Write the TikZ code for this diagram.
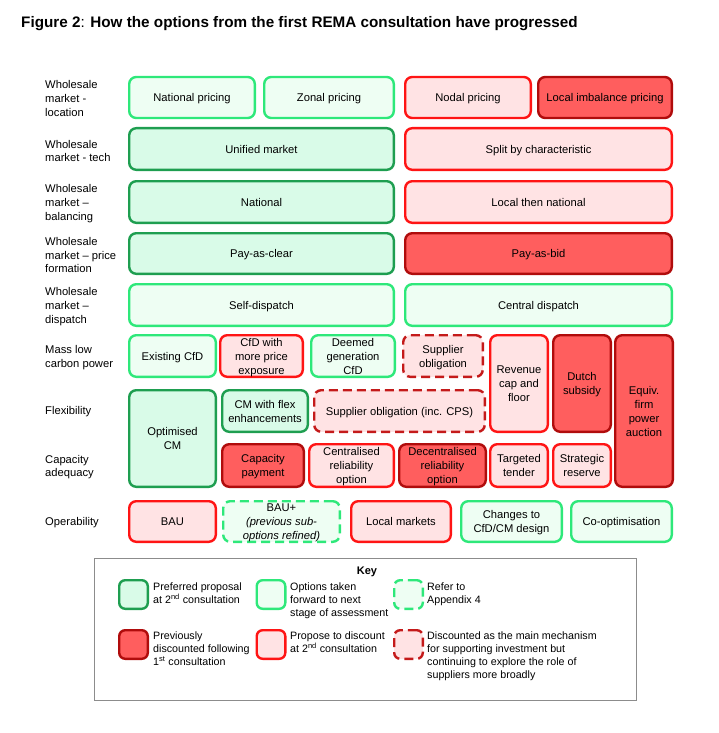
\documentclass[tikz,border=0pt]{standalone}
\usepackage{fontspec}
\setmainfont{Liberation Sans}
\definecolor{prefline}{HTML}{1E9E50}
\definecolor{preffill}{HTML}{D9FBE8}
\definecolor{fwdline}{HTML}{2EE87A}
\definecolor{fwdfill}{HTML}{EEFEF3}
\definecolor{discline}{HTML}{B00C0C}
\definecolor{discfill}{HTML}{FF5E5E}
\definecolor{propline}{HTML}{FF1414}
\definecolor{propfill}{HTML}{FFE3E4}
\definecolor{supline}{HTML}{C41A1A}
\definecolor{keyline}{HTML}{8C8C8C}
\begin{document}
\begin{tikzpicture}[x=1pt,y=-1pt,
  optbox/.style={rounded corners=7pt,line width=2.4pt,align=center,inner sep=1pt,text depth=0pt,
    font=\fontsize{11.2}{14}\selectfont},
  pref/.style={optbox,draw=prefline,fill=preffill},
  fwd/.style={optbox,draw=fwdline,fill=fwdfill},
  prevdisc/.style={optbox,draw=discline,fill=discfill},
  propdisc/.style={optbox,draw=propline,fill=propfill},
  appx/.style={fwd,dash pattern=on 9pt off 5pt},
  suppl/.style={optbox,draw=supline,fill=propfill,dash pattern=on 9pt off 5pt},
  rowlab/.style={anchor=west,align=left,inner sep=0pt,font=\fontsize{11.2}{13.8}\selectfont},
  swatch/.style={minimum width=28.6pt,minimum height=28.6pt,inner sep=0pt,rounded corners=6pt},
  keytext/.style={anchor=north west,align=left,inner sep=0pt,font=\fontsize{10.7}{13}\selectfont}]
  \useasboundingbox (0,0) rectangle (719,733);
  \node[anchor=base west,inner sep=0pt,font=\fontsize{15.25}{18}\selectfont\bfseries] (title) at (21,28)
    {Figure 2{\mdseries:} How the options from the first REMA consultation have progressed};

  % row labels
  \node[rowlab] (l1) at (45,98.5) {Wholesale\\market -\\location};
  \node[rowlab] (l2) at (45,151) {Wholesale\\market - tech};
  \node[rowlab] (l3) at (45,203.5) {Wholesale\\market --\\balancing};
  \node[rowlab] (l4) at (45,255) {Wholesale\\market -- price\\formation};
  \node[rowlab] (l5) at (45,306.5) {Wholesale\\market --\\dispatch};
  \node[rowlab] (l6) at (45,358) {Mass low\\carbon power};
  \node[rowlab] (l7) at (45,412) {Flexibility};
  \node[rowlab] (l8) at (45,467) {Capacity\\adequacy};
  \node[rowlab] (l9) at (45,522.5) {Operability};

  % wholesale market rows
  \node[fwd,minimum width=125.6pt,minimum height=41pt] (natpr) at (192,97.5) {National pricing};
  \node[fwd,minimum width=129.6pt,minimum height=41pt] (zonpr) at (329,97.5) {Zonal pricing};
  \node[propdisc,minimum width=125.6pt,minimum height=41pt] (nodpr) at (468,97.5) {Nodal pricing};
  \node[prevdisc,minimum width=133.6pt,minimum height=41pt] (locimb) at (605,97.5) {Local imbalance pricing};
  \node[pref,minimum width=264.6pt,minimum height=41.6pt] (unified) at (261.5,149) {Unified market};
  \node[propdisc,minimum width=266.6pt,minimum height=41.6pt] (split) at (538.5,149) {Split by characteristic};
  \node[pref,minimum width=264.6pt,minimum height=41.6pt] (natbal) at (261.5,202) {National};
  \node[propdisc,minimum width=266.6pt,minimum height=41.6pt] (locnat) at (538.5,202) {Local then national};
  \node[pref,minimum width=264.6pt,minimum height=40.6pt] (payclear) at (261.5,253.5) {Pay-as-clear};
  \node[prevdisc,minimum width=266.6pt,minimum height=40.6pt] (paybid) at (538.5,253.5) {Pay-as-bid};
  \node[fwd,minimum width=264.6pt,minimum height=41.6pt] (selfdisp) at (261.5,305) {Self-dispatch};
  \node[fwd,minimum width=266.6pt,minimum height=41.6pt] (centdisp) at (538.5,305) {Central dispatch};

  % low carbon, flexibility, capacity
  \node[fwd,minimum width=86.6pt,minimum height=41.6pt] (existcfd) at (172.5,356) {Existing CfD};
  \node[propdisc,minimum width=82.6pt,minimum height=41.6pt] (cfdprice) at (261.5,356) {CfD with\\more price\\exposure};
  \node[fwd,minimum width=83.6pt,minimum height=41.6pt] (deemed) at (353,356) {Deemed\\generation\\CfD};
  \node[suppl,minimum width=79.6pt,minimum height=41.6pt] (supobl) at (443,356) {Supplier\\obligation};
  \node[propdisc,minimum width=57.6pt,minimum height=96.6pt] (revcap) at (519,383.5) {Revenue\\cap and\\floor};
  \node[prevdisc,minimum width=57.6pt,minimum height=96.6pt] (dutch) at (582,383.5) {Dutch\\subsidy};
  \node[prevdisc,minimum width=57.6pt,minimum height=151.6pt] (equiv) at (644,411) {Equiv.\\firm\\power\\auction};
  \node[pref,minimum width=86.6pt,minimum height=96.6pt] (optcm) at (172.5,438.5) {Optimised\\CM};
  \node[pref,minimum width=85.6pt,minimum height=41.6pt] (cmflex) at (265,411) {CM with flex\\enhancements};
  \node[suppl,minimum width=170.6pt,minimum height=41.6pt] (supcps) at (399.5,411) {Supplier obligation (inc. CPS)};
  \node[prevdisc,minimum width=81.6pt,minimum height=42.6pt] (cappay) at (263,465.5) {Capacity\\payment};
  \node[propdisc,minimum width=84.6pt,minimum height=42.6pt] (centrel) at (351.5,465.5) {Centralised\\reliability\\option};
  \node[prevdisc,minimum width=86.6pt,minimum height=42.6pt] (decrel) at (442.5,465.5) {Decentralised\\reliability\\option};
  \node[propdisc,minimum width=57.6pt,minimum height=42.6pt] (targeted) at (519,465.5) {Targeted\\tender};
  \node[propdisc,minimum width=57.6pt,minimum height=42.6pt] (strategic) at (582,465.5) {Strategic\\reserve};

  % operability
  \node[propdisc,minimum width=86.6pt,minimum height=40.6pt] (bau) at (172.5,521.5) {BAU};
  \node[appx,minimum width=116.6pt,minimum height=40.6pt] (bauplus) at (281.5,521.5) {BAU+\\\textit{(previous sub-}\\\textit{options refined)}};
  \node[propdisc,minimum width=99.6pt,minimum height=40.6pt] (locmkt) at (401,521.5) {Local markets};
  \node[fwd,minimum width=100.6pt,minimum height=40.6pt] (changes) at (511.5,521.5) {Changes to\\CfD/CM design};
  \node[fwd,minimum width=100.6pt,minimum height=40.6pt] (coopt) at (621.5,521.5) {Co-optimisation};

  % key
  \node[draw=keyline,line width=1pt,minimum width=542pt,minimum height=142pt] (key) at (365.5,629.5) {};
  \node[font=\fontsize{11}{13}\selectfont\bfseries,inner sep=0pt] (keytitle) at (367,572) {Key};
  \node[pref,swatch] (kpref) at (133.5,594.5) {};
  \node[fwd,swatch] (kfwd) at (271,594.5) {};
  \node[appx,swatch] (kappx) at (408.5,594.5) {};
  \node[prevdisc,swatch] (kprev) at (133.5,644.5) {};
  \node[propdisc,swatch] (kprop) at (271,644.5) {};
  \node[suppl,swatch] (ksuppl) at (408.5,644.5) {};
  \node[keytext] (tpref) at (153,582.5) {Preferred proposal\\at 2\textsuperscript{nd} consultation};
  \node[keytext] (tfwd) at (290,582.5) {Options taken\\forward to next\\stage of assessment};
  \node[keytext] (tappx) at (427,582.5) {Refer to\\Appendix 4};
  \node[keytext] (tprev) at (153,631.5) {Previously\\discounted following\\1\textsuperscript{st} consultation};
  \node[keytext] (tprop) at (290,631.5) {Propose to discount\\at 2\textsuperscript{nd} consultation};
  \node[keytext] (tsuppl) at (427,631.5) {Discounted as the main mechanism\\for supporting investment but\\continuing to explore the role of\\suppliers more broadly};
\end{tikzpicture}
\end{document}
